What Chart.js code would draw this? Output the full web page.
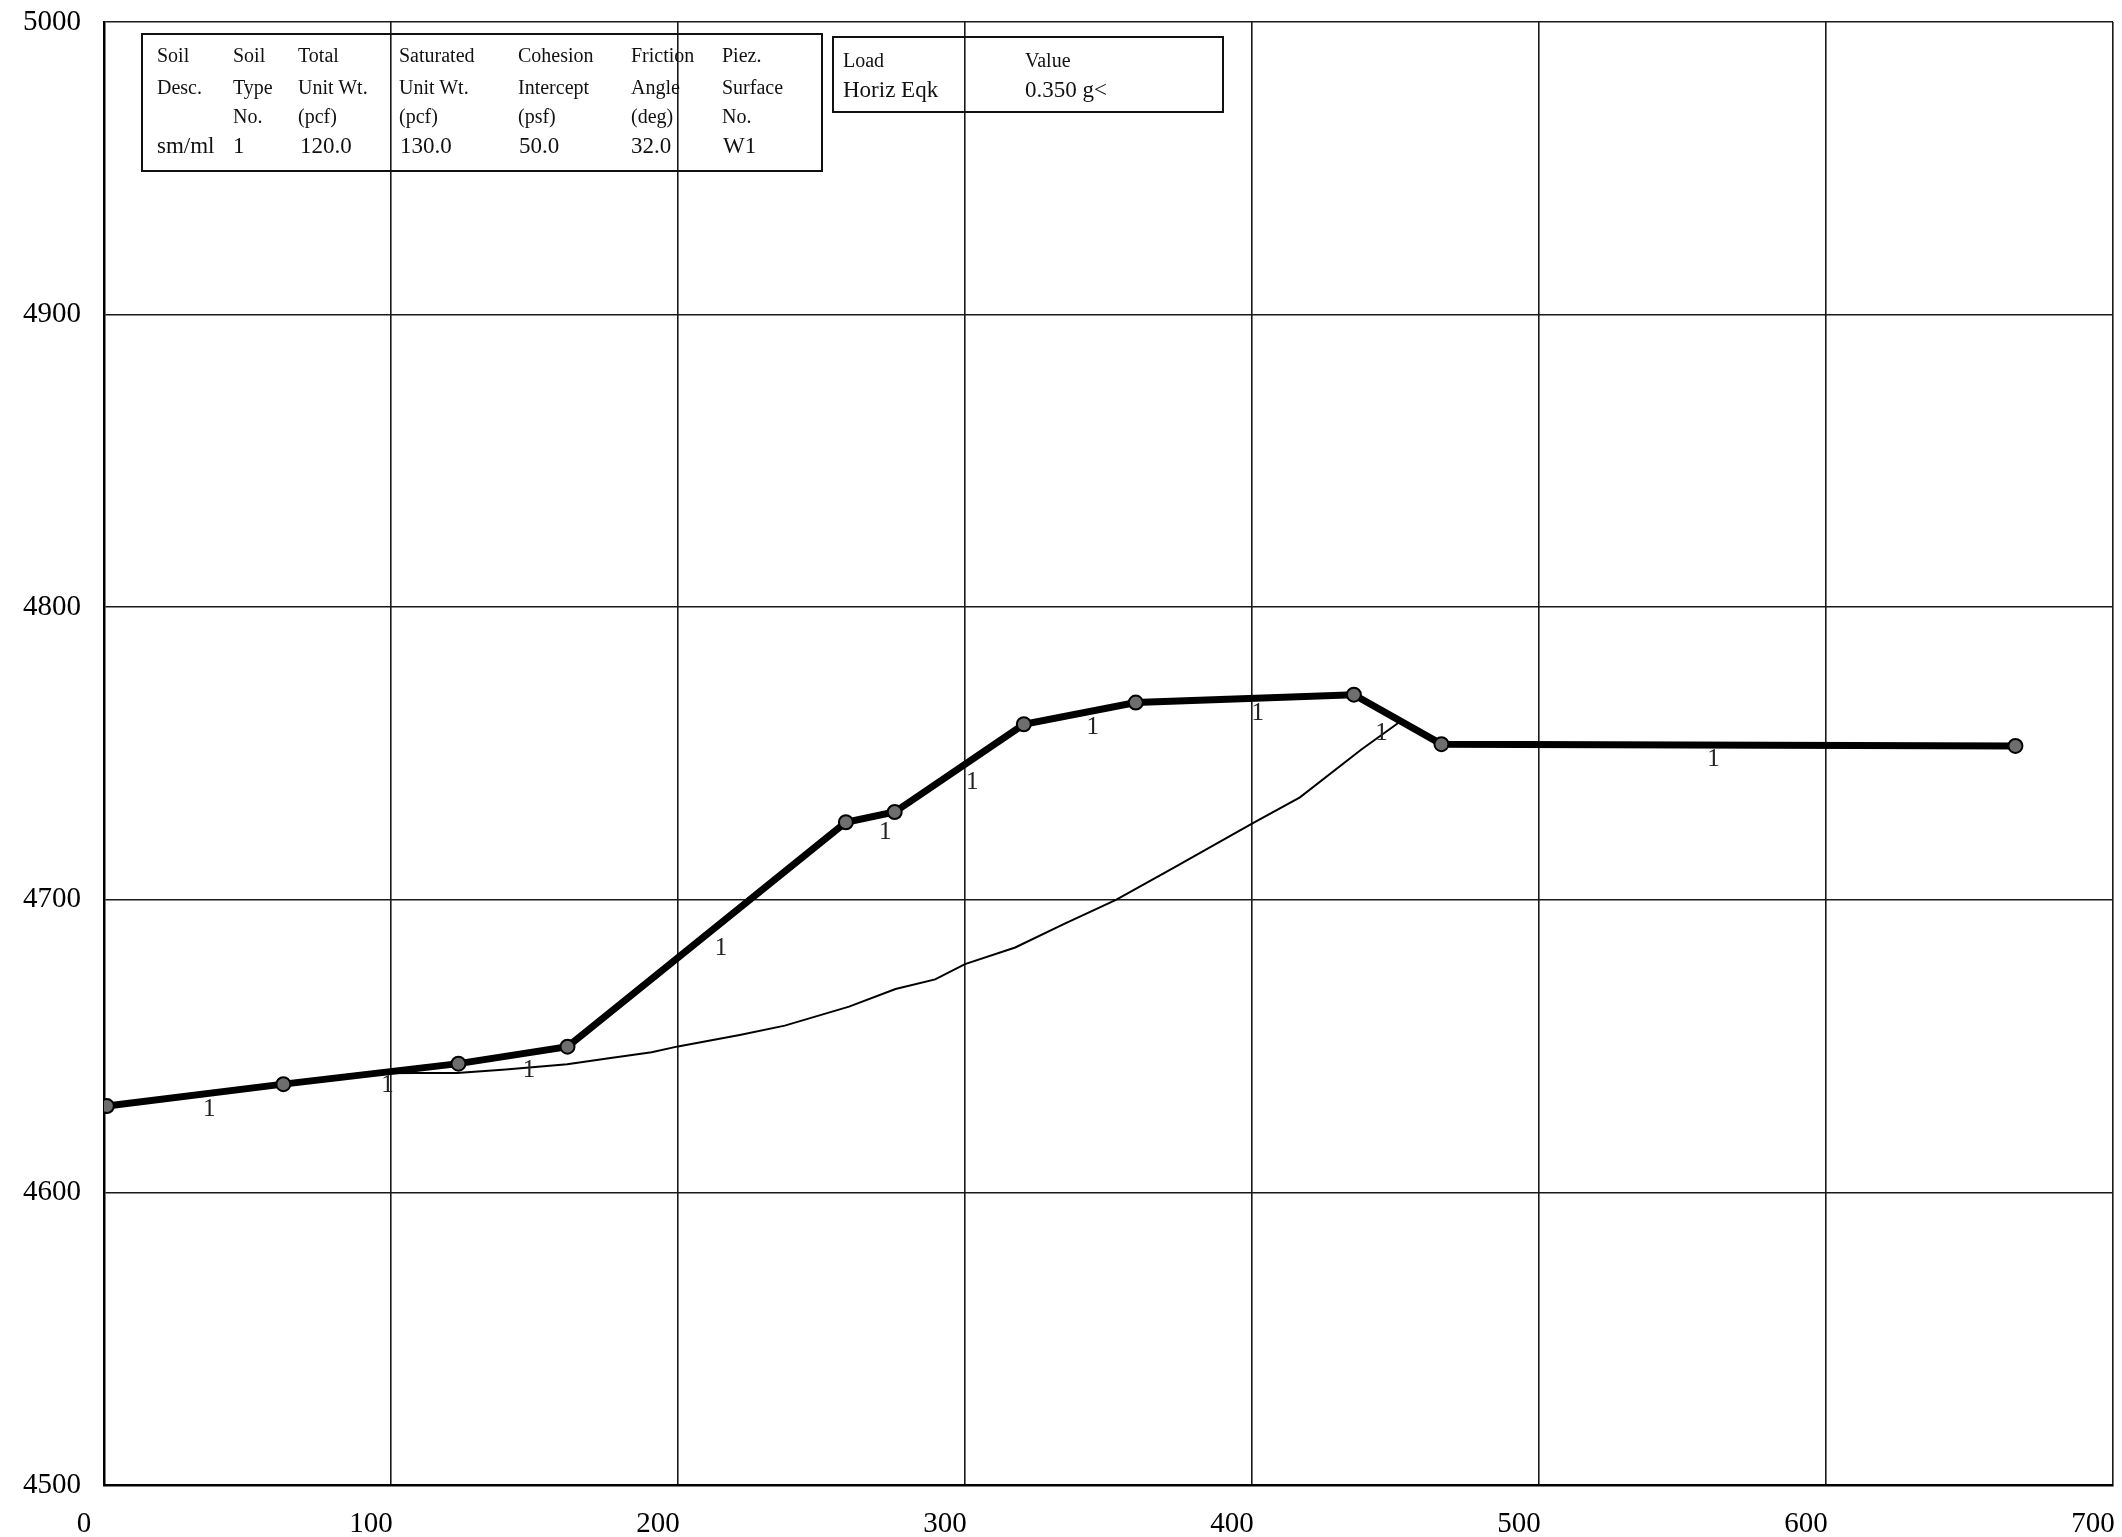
<!DOCTYPE html>
<html>
<head>
<meta charset="utf-8">
<script src="https://cdn.jsdelivr.net/npm/chart.js@4.4.1/dist/chart.umd.min.js"></script>
<style>
  html, body { margin: 0; padding: 0; background: #fff; }
  #wrap { position: relative; width: 2122px; height: 1537px; overflow: hidden; }
  canvas { position: absolute; left: 0; top: 0; }
  .box { position: absolute; border: 2px solid #111; box-sizing: border-box; background: transparent; }
  .t { position: absolute; font-family: "Liberation Serif", "Times New Roman", serif; color: #111; white-space: nowrap; transform: translateY(-50%); line-height: 1; }
  .h { font-size: 20px; }
  .v { font-size: 23px; }
</style>
</head>
<body>
<div id="wrap">
  <canvas id="c" width="2122" height="1537"></canvas>

  <div class="box" style="left:141px;top:33px;width:682px;height:139px;"></div>
  <span class="t h" style="left:157px;top:55px;">Soil</span>
  <span class="t h" style="left:157px;top:87px;">Desc.</span>
  <span class="t v" style="left:157px;top:145px;">sm/ml</span>
  <span class="t h" style="left:233px;top:55px;">Soil</span>
  <span class="t h" style="left:233px;top:87px;">Type</span>
  <span class="t h" style="left:233px;top:116px;">No.</span>
  <span class="t v" style="left:233px;top:145px;">1</span>
  <span class="t h" style="left:298px;top:55px;">Total</span>
  <span class="t h" style="left:298px;top:87px;">Unit Wt.</span>
  <span class="t h" style="left:298px;top:116px;">(pcf)</span>
  <span class="t v" style="left:300px;top:145px;">120.0</span>
  <span class="t h" style="left:399px;top:55px;">Saturated</span>
  <span class="t h" style="left:399px;top:87px;">Unit Wt.</span>
  <span class="t h" style="left:399px;top:116px;">(pcf)</span>
  <span class="t v" style="left:400px;top:145px;">130.0</span>
  <span class="t h" style="left:518px;top:55px;">Cohesion</span>
  <span class="t h" style="left:518px;top:87px;">Intercept</span>
  <span class="t h" style="left:518px;top:116px;">(psf)</span>
  <span class="t v" style="left:519px;top:145px;">50.0</span>
  <span class="t h" style="left:631px;top:55px;">Friction</span>
  <span class="t h" style="left:631px;top:87px;">Angle</span>
  <span class="t h" style="left:631px;top:116px;">(deg)</span>
  <span class="t v" style="left:631px;top:145px;">32.0</span>
  <span class="t h" style="left:722px;top:55px;">Piez.</span>
  <span class="t h" style="left:722px;top:87px;">Surface</span>
  <span class="t h" style="left:722px;top:116px;">No.</span>
  <span class="t v" style="left:723px;top:145px;">W1</span>

  <div class="box" style="left:832px;top:36px;width:392px;height:77px;"></div>
  <span class="t h" style="left:843px;top:60px;">Load</span>
  <span class="t v" style="left:843px;top:89px;">Horiz Eqk</span>
  <span class="t h" style="left:1025px;top:60px;">Value</span>
  <span class="t v" style="left:1025px;top:89px;">0.350 g&lt;</span>
</div>
<script>
// ---- Data ----
const surfaceX = [1, 62.5, 123.5, 161.5, 258.5, 275.5, 320.5, 359.5, 435.5, 466, 666];
const surfaceY = [4629.5, 4637, 4644, 4649.8, 4726.5, 4730, 4760, 4767.4, 4770.1, 4753.2, 4752.6];

const slipX = [95, 110, 123, 140, 161.4, 175.3, 190.8, 200, 221.5, 237.2, 259.6, 275.8, 289.6, 300, 317.5, 334.2, 352.6, 372.8, 400, 416.7, 438, 451.3];
const slipY = [4640.7, 4640.8, 4640.8, 4642, 4643.8, 4645.8, 4647.9, 4649.9, 4653.8, 4657, 4663.5, 4669.5, 4672.8, 4678, 4683.7, 4691.6, 4700, 4711, 4726, 4735, 4751.3, 4760.7];

const soilLabelX = [36.7, 98.8, 148.1, 215, 272.2, 302.5, 344.5, 402, 445.1, 560.8];
const soilLabelY = [4628.4, 4636.5, 4641.8, 4683.3, 4723, 4740.2, 4759, 4763.6, 4756.8, 4748];
const soilLabelText = ["1", "1", "1", "1", "1", "1", "1", "1", "1", "1"];

const xTicks = [0, 100, 200, 300, 400, 500, 600, 700];
const yTicks = [4500, 4600, 4700, 4800, 4900, 5000];

const toPts = (xs, ys) => xs.map((x, i) => ({ x: x, y: ys[i] }));

const soilLabelPlugin = {
  id: 'soilLabels',
  afterDatasetsDraw(chart) {
    const ctx = chart.ctx;
    const xs = chart.scales.x, ys = chart.scales.y;
    ctx.save();
    ctx.font = '25px "Liberation Serif", serif';
    ctx.fillStyle = '#222';
    ctx.textAlign = 'center';
    ctx.textBaseline = 'middle';
    soilLabelX.forEach((x, i) => {
      ctx.fillText(soilLabelText[i], xs.getPixelForValue(x), ys.getPixelForValue(soilLabelY[i]));
    });
    ctx.restore();
  }
};

new Chart(document.getElementById('c'), {
  type: 'scatter',
  data: {
    datasets: [
      {
        label: 'Slip surface',
        data: toPts(slipX, slipY),
        showLine: true,
        borderColor: '#000',
        borderWidth: 2,
        pointRadius: 0,
        tension: 0,
        order: 2
      },
      {
        label: 'Ground surface',
        data: toPts(surfaceX, surfaceY),
        showLine: true,
        borderColor: '#000',
        borderWidth: 7,
        pointRadius: 7,
        pointStyle: 'circle',
        pointBackgroundColor: '#6e6e6e',
        pointBorderColor: '#000',
        pointBorderWidth: 2,
        tension: 0,
        order: 1
      }
    ]
  },
  options: {
    responsive: false,
    animation: false,
    devicePixelRatio: 1,
    layout: { padding: { left: 0, top: 22, right: 5, bottom: 0 } },
    plugins: { legend: { display: false }, tooltip: { enabled: false } },
    scales: {
      x: {
        type: 'linear',
        min: 0, max: 700,
        afterBuildTicks: (s) => { s.ticks = xTicks.map(v => ({ value: v })); },
        afterFit: (s) => { s.height = 52; s.paddingLeft = 0; s.paddingRight = 0; },
        grid: { color: '#1a1a1a', lineWidth: 1.6, drawTicks: false },
        border: { display: true, color: '#000', width: 2.5 },
        ticks: {
          font: { family: '"Liberation Serif", serif', size: 29 },
          color: '#000',
          padding: 22,
          labelOffset: -20,
          maxRotation: 0,
          autoSkip: false,
          callback: (v) => String(v)
        }
      },
      y: {
        type: 'linear',
        min: 4500, max: 5000,
        afterBuildTicks: (s) => { s.ticks = yTicks.map(v => ({ value: v })); },
        afterFit: (s) => { s.width = 104; s.paddingTop = 0; s.paddingBottom = 0; },
        grid: { color: '#1a1a1a', lineWidth: 1.6, drawTicks: false },
        border: { display: true, color: '#000', width: 2.5 },
        ticks: {
          font: { family: '"Liberation Serif", serif', size: 29 },
          color: '#000',
          padding: 23,
          autoSkip: false,
          callback: (v) => String(v)
        }
      }
    }
  },
  plugins: [soilLabelPlugin]
});
</script>
</body>
</html>
